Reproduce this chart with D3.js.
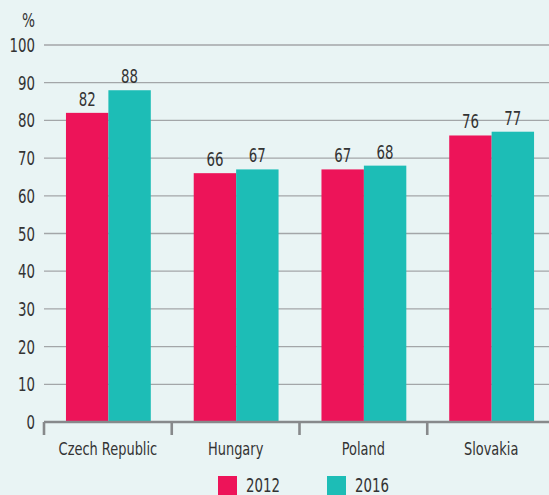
<!DOCTYPE html>
<html>
<head>
<meta charset="utf-8">
<script src="https://cdn.jsdelivr.net/npm/d3@7"></script>
<style>
	body { margin: 0; background: #e9f4f4; }
	svg text { font-family: "DejaVu Sans Condensed", "DejaVu Sans", sans-serif; fill: #333; }
</style>
</head>
<body>
<div id="chart"></div>
<script>
var countries = ["Czech Republic", "Hungary", "Poland", "Slovakia"];
var years = ["2012", "2016"];
var values2012 = [82, 66, 67, 76];
var values2016 = [88, 67, 68, 77];
var yTicks = [0, 10, 20, 30, 40, 50, 60, 70, 80, 90, 100];
var colors = ["#ed1459", "#1dbdb6"];

var rows = countries.map(function(c, i) {
	return { country: c, values: [values2012[i], values2016[i]] };
});

// squeeze text to look like a condensed face
function narrow(sel, k) {
	sel.each(function() {
		var w = this.getComputedTextLength();
		d3.select(this).attr("textLength", w * k).attr("lengthAdjust", "spacingAndGlyphs");
	});
}

var svg = d3.select("#chart").append("svg")
	.attr("width", 549)
	.attr("height", 495);

var x0 = d3.scaleBand()
	.domain(countries)
	.range([44, 555]);

var x1 = d3.scaleBand()
	.domain(years)
	.range([x0.bandwidth() * 0.172, x0.bandwidth() * 0.836]);

var y = d3.scaleLinear()
	.domain([0, 100])
	.range([422, 45]);

var color = d3.scaleOrdinal().domain(years).range(colors);

// grid
svg.append("g")
	.selectAll("line")
	.data(yTicks.slice(1))
	.enter()
	.append("line")
	.attr("x1", 44)
	.attr("x2", 549)
	.attr("y1", function(d) { return y(d); })
	.attr("y2", function(d) { return y(d); })
	.attr("stroke", "#a3a6a8")
	.attr("stroke-width", 1.3);

// y labels
svg.append("g")
	.selectAll("text")
	.data(yTicks)
	.enter()
	.append("text")
	.attr("x", 35)
	.attr("y", function(d) { return y(d) + 7; })
	.attr("text-anchor", "end")
	.style("font-size", "19px")
	.text(function(d) { return d; })
	.call(narrow, 0.78);

svg.append("text")
	.attr("x", 35)
	.attr("y", 27)
	.attr("text-anchor", "end")
	.style("font-size", "19px")
	.text("%")
	.call(narrow, 0.8);

// bars
var groups = svg.selectAll(".country")
	.data(rows)
	.enter()
	.append("g")
	.attr("class", "country")
	.attr("transform", function(d) { return "translate(" + x0(d.country) + ",0)"; });

groups.selectAll("rect")
	.data(function(d) { return d.values.map(function(v, i) { return { year: years[i], value: v }; }); })
	.enter()
	.append("rect")
	.attr("x", function(d) { return x1(d.year); })
	.attr("y", function(d) { return y(d.value); })
	.attr("width", x1.bandwidth())
	.attr("height", function(d) { return y(0) - y(d.value); })
	.attr("fill", function(d) { return color(d.year); });

groups.selectAll(".val")
	.data(function(d) { return d.values.map(function(v, i) { return { year: years[i], value: v }; }); })
	.enter()
	.append("text")
	.attr("class", "val")
	.attr("x", function(d) { return x1(d.year) + x1.bandwidth() / 2; })
	.attr("y", function(d) { return y(d.value) - 7; })
	.attr("text-anchor", "middle")
	.style("font-size", "19px")
	.text(function(d) { return d.value; })
	.call(narrow, 0.78);

// x axis
var xAxis = d3.axisBottom(x0).tickSize(0).tickPadding(20);
var axisG = svg.append("g")
	.attr("transform", "translate(0," + y(0) + ")")
	.call(xAxis);
axisG.select(".domain").remove();
axisG.selectAll("text")
	.style("font-size", "18px")
	.style("fill", "#333")
	.style("font-family", null)
	.call(narrow, 0.8);

svg.append("line")
	.attr("x1", 44)
	.attr("x2", 549)
	.attr("y1", y(0))
	.attr("y2", y(0))
	.attr("stroke", "#87898b")
	.attr("stroke-width", 2.6);

svg.append("g")
	.selectAll("line")
	.data(countries)
	.enter()
	.append("line")
	.attr("x1", function(d) { return x0(d); })
	.attr("x2", function(d) { return x0(d); })
	.attr("y1", y(0))
	.attr("y2", y(0) + 13)
	.attr("stroke", "#87898b")
	.attr("stroke-width", 2.6);

// legend
var legend = svg.selectAll(".legend")
	.data(years)
	.enter()
	.append("g")
	.attr("class", "legend")
	.attr("transform", function(d, i) { return "translate(" + (218 + i * 109) + ",476)"; });

legend.append("rect")
	.attr("width", 19)
	.attr("height", 19)
	.attr("fill", function(d) { return color(d); });

legend.append("text")
	.attr("x", 28)
	.attr("y", 16)
	.style("font-size", "19px")
	.text(function(d) { return d; })
	.call(narrow, 0.78);
</script>
</body>
</html>
